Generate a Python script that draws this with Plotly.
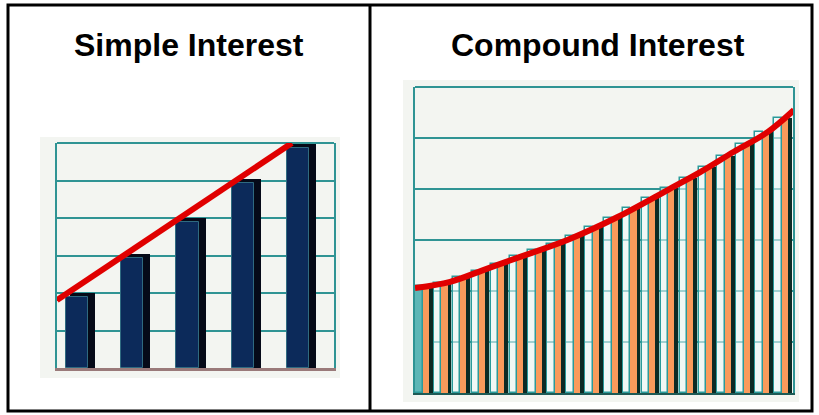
import plotly.graph_objects as go

W, H = 819, 415

# ---------------- data ----------------
titles = ["Simple Interest", "Compound Interest"]

simple_periods = [1, 2, 3, 4, 5]
simple_values = [1.9, 2.93, 3.9, 4.93, 5.87]
simple_line_x = [0.638, 4.89]
simple_line_y = [1.81, 6.0]

compound_periods = list(range(1, 21))
compound_values = [2.10, 2.16, 2.28, 2.40, 2.53, 2.68, 2.80, 2.93, 3.07, 3.26,
                   3.43, 3.62, 3.82, 4.02, 4.22, 4.43, 4.65, 4.88, 5.12, 5.40]
compound_curve_x = [0.5, 2.36, 4.11, 5.91, 8.56, 11.22, 13.87, 15.59, 17.37, 19.17, 20.55]
compound_curve_y = [2.06, 2.18, 2.41, 2.65, 3.00, 3.45, 3.98, 4.33, 4.73, 5.12, 5.55]

grid_ticks = [0, 1, 2, 3, 4, 5, 6]


def px(x):
    return x / W


def py(y):
    return 1 - y / H


fig = go.Figure()

# ---------- Simple interest ----------
fig.add_trace(go.Bar(
    x=simple_periods, y=[v + 0.1 for v in simple_values],
    offset=-0.13, width=0.46,
    marker=dict(color="#050a18", line=dict(width=0)),
    xaxis="x", yaxis="y", showlegend=False, hoverinfo="skip"))
fig.add_trace(go.Bar(
    x=simple_periods, y=simple_values,
    offset=-0.2, width=0.4,
    marker=dict(color="#0c2a5a", line=dict(color="#2f6a80", width=1)),
    xaxis="x", yaxis="y", showlegend=False))
fig.add_trace(go.Scatter(
    x=simple_line_x, y=simple_line_y, mode="lines",
    line=dict(color="#e00000", width=6),
    xaxis="x", yaxis="y", showlegend=False))

# ---------- Compound interest ----------
white_colors = ["#5db6b6"] + ["rgba(238,250,250,0.6)"] * (len(compound_periods) - 1)
fig.add_trace(go.Bar(
    x=compound_periods, y=compound_values,
    offset=-0.5, width=0.4,
    marker=dict(color=white_colors, line=dict(color="#2a9a9a", width=1.5)),
    xaxis="x2", yaxis="y2", showlegend=False, hoverinfo="skip"))
fig.add_trace(go.Bar(
    x=compound_periods, y=compound_values,
    offset=-0.1, width=0.53,
    marker=dict(color="#0c2a24", line=dict(width=0)),
    xaxis="x2", yaxis="y2", showlegend=False, hoverinfo="skip"))
fig.add_trace(go.Bar(
    x=compound_periods, y=compound_values,
    offset=-0.1, width=0.32,
    marker=dict(color="#f99a5b", line=dict(width=0)),
    xaxis="x2", yaxis="y2", showlegend=False))
fig.add_trace(go.Scatter(
    x=compound_curve_x, y=compound_curve_y, mode="lines",
    line=dict(color="#e00000", width=6, shape="spline"),
    xaxis="x2", yaxis="y2", showlegend=False))

teal = "#2f9494"

common_y = dict(range=[0, 6], tickvals=grid_ticks, showticklabels=False,
                showgrid=True, gridcolor=teal, gridwidth=2, zeroline=False,
                showline=True, linecolor=teal, linewidth=2, mirror=True,
                ticks="", fixedrange=True)

fig.update_layout(
    width=W, height=H,
    margin=dict(l=0, r=0, t=0, b=0),
    paper_bgcolor="white",
    plot_bgcolor="#eef1ec",
    barmode="overlay",
    bargap=0,
    xaxis=dict(domain=[px(57), px(334)], range=[0.638, 5.652], anchor="y",
               showgrid=False, zeroline=False, showticklabels=False,
               showline=True, linecolor="#9a7a7a", linewidth=3, ticks=""),
    yaxis=dict(domain=[py(368), py(143)], anchor="x", **common_y),
    xaxis2=dict(domain=[px(415), px(793)], range=[0.5, 20.5], anchor="y2",
                showgrid=False, zeroline=False, showticklabels=False,
                showline=True, linecolor="#1d5a55", linewidth=2, ticks=""),
    yaxis2=dict(domain=[py(393), py(87)], anchor="x2", **common_y),
)

shapes = [
    # light outer chart boxes
    dict(type="rect", xref="paper", yref="paper", x0=px(40), x1=px(340),
         y0=py(378), y1=py(137), fillcolor="#f3f5f1", line=dict(width=0), layer="below"),
    dict(type="rect", xref="paper", yref="paper", x0=px(403), x1=px(799),
         y0=py(402), y1=py(80), fillcolor="#f3f5f1", line=dict(width=0), layer="below"),
    # top edges of the plot walls
    dict(type="line", xref="x domain", yref="y domain", x0=0, x1=1, y0=1, y1=1,
         line=dict(color=teal, width=2), layer="below"),
    dict(type="line", xref="x2 domain", yref="y2 domain", x0=0, x1=1, y0=1, y1=1,
         line=dict(color=teal, width=2), layer="below"),
    # table borders
    dict(type="rect", xref="paper", yref="paper", x0=px(8), x1=px(812),
         y0=py(411), y1=py(5), line=dict(color="black", width=3), fillcolor="rgba(0,0,0,0)"),
    dict(type="line", xref="paper", yref="paper", x0=px(370), x1=px(370),
         y0=py(411), y1=py(5), line=dict(color="black", width=3)),
]
fig.update_layout(shapes=shapes)

for t, cx in zip(titles, [189, 598]):
    fig.add_annotation(text="<b>" + t + "</b>", x=px(cx), y=py(45),
                       xref="paper", yref="paper", showarrow=False,
                       xanchor="center", yanchor="middle",
                       font=dict(family="Liberation Sans, Arial, sans-serif", size=32, color="black"))

fig.write_html("out.html", config={"displayModeBar": False})
